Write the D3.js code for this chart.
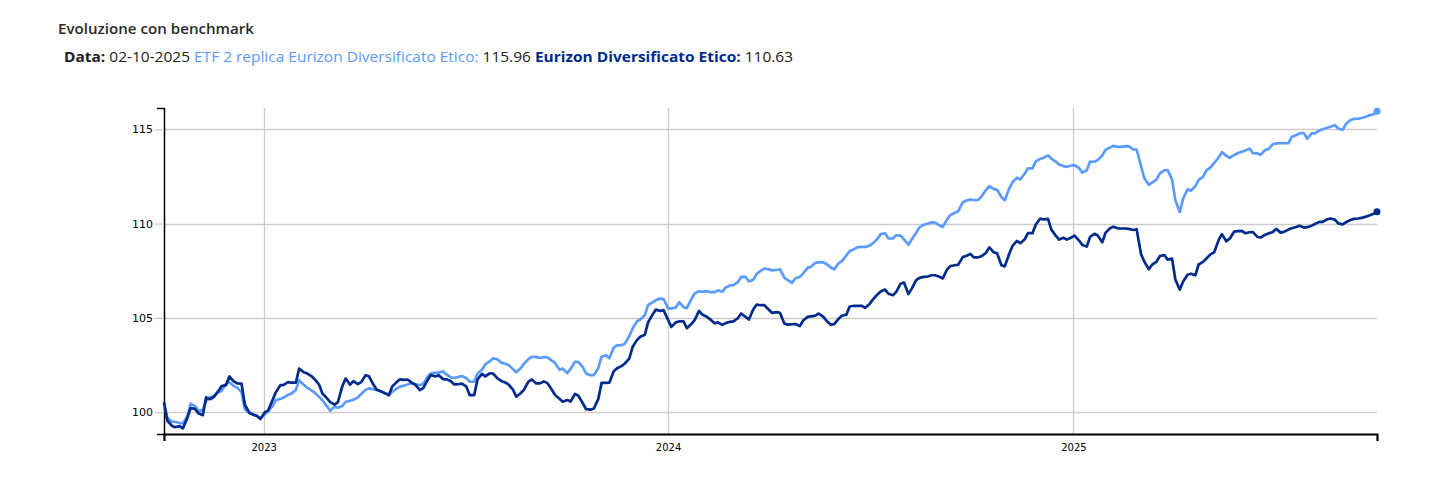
<!DOCTYPE html>
<html><head><meta charset="utf-8">
<script src="https://cdn.jsdelivr.net/npm/d3@7"></script>
<style>
body{margin:0;background:#fff;}
svg{display:block;}
</style></head><body>
<svg id="chart" width="1437" height="492"></svg>
<script>
// ---- data (twice-weekly readings: Monday, Thursday) ----
const dates = [
"2022-10-03","2022-10-06","2022-10-10","2022-10-13","2022-10-17","2022-10-20","2022-10-24","2022-10-27",
"2022-10-31","2022-11-03","2022-11-07","2022-11-10","2022-11-14","2022-11-17","2022-11-21","2022-11-24",
"2022-11-28","2022-12-01","2022-12-05","2022-12-08","2022-12-12","2022-12-15","2022-12-19","2022-12-22",
"2022-12-26","2022-12-29","2023-01-02","2023-01-05","2023-01-09","2023-01-12","2023-01-16","2023-01-19",
"2023-01-23","2023-01-26","2023-01-30","2023-02-02","2023-02-06","2023-02-09","2023-02-13","2023-02-16",
"2023-02-20","2023-02-23","2023-02-27","2023-03-02","2023-03-06","2023-03-09","2023-03-13","2023-03-16",
"2023-03-20","2023-03-23","2023-03-27","2023-03-30","2023-04-03","2023-04-06","2023-04-10","2023-04-13",
"2023-04-17","2023-04-20","2023-04-24","2023-04-27","2023-05-01","2023-05-04","2023-05-08","2023-05-11",
"2023-05-15","2023-05-18","2023-05-22","2023-05-25","2023-05-29","2023-06-01","2023-06-05","2023-06-08",
"2023-06-12","2023-06-15","2023-06-19","2023-06-22","2023-06-26","2023-06-29","2023-07-03","2023-07-06",
"2023-07-10","2023-07-13","2023-07-17","2023-07-20","2023-07-24","2023-07-27","2023-07-31","2023-08-03",
"2023-08-07","2023-08-10","2023-08-14","2023-08-17","2023-08-21","2023-08-24","2023-08-28","2023-08-31",
"2023-09-04","2023-09-07","2023-09-11","2023-09-14","2023-09-18","2023-09-21","2023-09-25","2023-09-28",
"2023-10-02","2023-10-05","2023-10-09","2023-10-12","2023-10-16","2023-10-19","2023-10-23","2023-10-26",
"2023-10-30","2023-11-02","2023-11-06","2023-11-09","2023-11-13","2023-11-16","2023-11-20","2023-11-23",
"2023-11-27","2023-11-30","2023-12-04","2023-12-07","2023-12-11","2023-12-14","2023-12-18","2023-12-21",
"2023-12-25","2023-12-28","2024-01-01","2024-01-04","2024-01-08","2024-01-11","2024-01-15","2024-01-18",
"2024-01-22","2024-01-25","2024-01-29","2024-02-01","2024-02-05","2024-02-08","2024-02-12","2024-02-15",
"2024-02-19","2024-02-22","2024-02-26","2024-02-29","2024-03-04","2024-03-07","2024-03-11","2024-03-14",
"2024-03-18","2024-03-21","2024-03-25","2024-03-28","2024-04-01","2024-04-04","2024-04-08","2024-04-11",
"2024-04-15","2024-04-18","2024-04-22","2024-04-25","2024-04-29","2024-05-02","2024-05-06","2024-05-09",
"2024-05-13","2024-05-16","2024-05-20","2024-05-23","2024-05-27","2024-05-30","2024-06-03","2024-06-06",
"2024-06-10","2024-06-13","2024-06-17","2024-06-20","2024-06-24","2024-06-27","2024-07-01","2024-07-04",
"2024-07-08","2024-07-11","2024-07-15","2024-07-18","2024-07-22","2024-07-25","2024-07-29","2024-08-01",
"2024-08-05","2024-08-08","2024-08-12","2024-08-15","2024-08-19","2024-08-22","2024-08-26","2024-08-29",
"2024-09-02","2024-09-05","2024-09-09","2024-09-12","2024-09-16","2024-09-19","2024-09-23","2024-09-26",
"2024-09-30","2024-10-03","2024-10-07","2024-10-10","2024-10-14","2024-10-17","2024-10-21","2024-10-24",
"2024-10-28","2024-10-31","2024-11-04","2024-11-07","2024-11-11","2024-11-14","2024-11-18","2024-11-21",
"2024-11-25","2024-11-28","2024-12-02","2024-12-05","2024-12-09","2024-12-12","2024-12-16","2024-12-19",
"2024-12-23","2024-12-26","2024-12-30","2025-01-02","2025-01-06","2025-01-09","2025-01-13","2025-01-16",
"2025-01-20","2025-01-23","2025-01-27","2025-01-30","2025-02-03","2025-02-06","2025-02-10","2025-02-13",
"2025-02-17","2025-02-20","2025-02-24","2025-02-27","2025-03-03","2025-03-06","2025-03-10","2025-03-13",
"2025-03-17","2025-03-20","2025-03-24","2025-03-27","2025-03-31","2025-04-03","2025-04-07","2025-04-10",
"2025-04-14","2025-04-17","2025-04-21","2025-04-24","2025-04-28","2025-05-01","2025-05-05","2025-05-08",
"2025-05-12","2025-05-15","2025-05-19","2025-05-22","2025-05-26","2025-05-29","2025-06-02","2025-06-05",
"2025-06-09","2025-06-12","2025-06-16","2025-06-19","2025-06-23","2025-06-26","2025-06-30","2025-07-03",
"2025-07-07","2025-07-10","2025-07-14","2025-07-17","2025-07-21","2025-07-24","2025-07-28","2025-07-31",
"2025-08-04","2025-08-07","2025-08-11","2025-08-14","2025-08-18","2025-08-21","2025-08-25","2025-08-28",
"2025-09-01","2025-09-04","2025-09-08","2025-09-11","2025-09-15","2025-09-18","2025-09-22","2025-09-25",
"2025-09-29","2025-10-02"
];
const etfValues = [
100.45, 99.72, 99.49, 99.49, 99.42, 99.41, 99.75,100.45,100.32,100.07,
100.11,100.58,100.80,100.86,101.06,101.12,101.51,101.59,101.38,101.30,
101.06,100.14, 99.96, 99.90, 99.79, 99.68, 99.87,100.06,100.32,100.64,
100.70,100.77,100.92,100.98,101.18,101.69,101.45,101.31,101.15,101.03,
100.81,100.63,100.32,100.07,100.28,100.23,100.32,100.55,100.60,100.66,
100.78,100.96,101.18,101.26,101.21,101.17,101.09,101.02,100.93,101.07,
101.25,101.35,101.41,101.47,101.55,101.48,101.43,101.50,101.88,102.06,
102.08,102.09,102.16,102.00,101.84,101.81,101.87,101.92,101.80,101.61,
101.61,102.05,102.25,102.53,102.69,102.86,102.80,102.64,102.57,102.50,
102.28,102.12,102.33,102.57,102.81,102.93,102.93,102.87,102.92,102.91,
102.73,102.61,102.25,102.31,102.07,102.29,102.67,102.67,102.39,102.05,
101.96,101.96,102.33,102.94,103.02,102.86,103.42,103.54,103.55,103.63,
104.03,104.44,104.82,104.91,105.14,105.68,105.82,105.94,106.02,106.00,
105.50,105.50,105.55,105.83,105.57,105.51,105.99,106.29,106.42,106.38,
106.42,106.36,106.36,106.46,106.38,106.61,106.72,106.73,106.89,107.17,
107.17,106.93,107.03,107.33,107.50,107.62,107.57,107.52,107.54,107.58,
107.13,107.00,106.86,107.10,107.17,107.36,107.65,107.71,107.92,107.94,
107.95,107.86,107.67,107.57,107.90,108.01,108.31,108.54,108.64,108.75,
108.76,108.76,108.83,108.96,109.19,109.44,109.49,109.21,109.21,109.38,
109.36,109.16,108.88,109.17,109.52,109.80,109.94,109.99,110.07,110.05,
109.90,109.82,110.23,110.46,110.57,110.66,111.12,111.22,111.28,111.24,
111.26,111.44,111.78,111.98,111.84,111.79,111.41,111.24,111.86,112.19,
112.44,112.34,112.66,112.93,112.93,113.30,113.43,113.49,113.62,113.45,
113.29,113.13,113.05,113.01,113.08,113.10,112.94,112.70,112.83,113.29,
113.28,113.38,113.61,113.92,114.03,114.12,114.07,114.07,114.11,114.09,
113.94,113.93,113.04,112.41,112.06,112.17,112.34,112.66,112.82,112.84,
112.33,111.23,110.62,111.33,111.82,111.74,111.98,112.32,112.48,112.82,
112.99,113.22,113.50,113.79,113.59,113.49,113.63,113.73,113.81,113.87,
113.98,113.73,113.72,113.65,113.90,113.95,114.22,114.25,114.26,114.27,
114.26,114.60,114.68,114.79,114.80,114.50,114.78,114.78,114.94,115.00,
115.08,115.14,115.22,115.04,114.97,115.28,115.49,115.55,115.57,115.60,
115.67,115.74,115.80,115.96
];
const fundValues = [
100.53, 99.55, 99.28, 99.20, 99.26, 99.14, 99.68,100.21,100.17, 99.94,
 99.84,100.78,100.69,100.81,101.11,101.38,101.43,101.89,101.63,101.53,
101.51,100.39, 99.97, 99.88, 99.79, 99.63,100.00,100.08,100.64,101.06,
101.43,101.44,101.59,101.56,101.56,102.31,102.12,102.06,101.91,101.75,
101.46,100.99,100.74,100.53,100.40,100.53,101.38,101.78,101.46,101.64,
101.49,101.59,101.96,101.90,101.46,101.20,101.10,101.02,100.89,101.36,
101.59,101.74,101.71,101.73,101.54,101.45,101.17,101.27,101.71,101.97,
101.89,101.95,101.75,101.74,101.64,101.47,101.48,101.51,101.35,100.90,
100.90,101.73,102.03,101.90,102.06,102.05,101.79,101.67,101.57,101.47,
101.19,100.82,101.00,101.19,101.62,101.73,101.52,101.52,101.63,101.54,
101.20,100.91,100.71,100.55,100.64,100.56,100.97,100.87,100.48,100.16,
100.13,100.19,100.69,101.55,101.55,101.56,102.17,102.33,102.44,102.58,
102.84,103.45,103.83,104.00,104.10,104.76,105.17,105.44,105.36,105.41,
104.90,104.52,104.76,104.81,104.82,104.45,104.67,104.88,105.37,105.17,
105.06,104.92,104.71,104.76,104.63,104.72,104.79,104.81,104.98,105.23,
105.05,104.91,105.46,105.70,105.67,105.67,105.43,105.26,105.30,105.27,
104.70,104.64,104.66,104.67,104.56,104.86,105.05,105.08,105.12,105.23,
105.07,104.85,104.64,104.67,104.95,105.11,105.17,105.60,105.64,105.64,
105.64,105.53,105.74,105.98,106.24,106.40,106.50,106.28,106.20,106.38,
106.81,106.87,106.26,106.55,107.00,107.12,107.17,107.19,107.26,107.26,
107.18,107.09,107.58,107.75,107.79,107.82,108.22,108.28,108.39,108.21,
108.21,108.27,108.45,108.74,108.48,108.43,107.79,107.73,108.40,108.82,
109.08,108.96,109.17,109.49,109.49,109.95,110.27,110.22,110.25,109.68,
109.36,109.15,109.25,109.15,109.26,109.36,109.10,108.86,108.78,109.29,
109.46,109.36,109.01,109.52,109.75,109.83,109.75,109.74,109.74,109.72,
109.66,109.70,108.38,107.98,107.58,107.82,107.98,108.28,108.33,108.09,
108.14,107.02,106.50,106.93,107.29,107.34,107.26,107.83,107.97,108.15,
108.38,108.48,109.12,109.44,109.06,109.20,109.57,109.60,109.61,109.49,
109.54,109.55,109.29,109.26,109.41,109.48,109.55,109.72,109.52,109.56,
109.68,109.75,109.82,109.88,109.79,109.81,109.89,109.98,110.09,110.09,
110.23,110.27,110.21,110.01,109.96,110.07,110.19,110.25,110.27,110.30,
110.37,110.43,110.52,110.63
];
const seriesNames = ["ETF 2 replica Eurizon Diversificato Etico", "Eurizon Diversificato Etico"];
const seriesColors = ["#5b9bff", "#002a8c"];
const yTickValues = [100, 105, 110, 115];
const xTickLabels = ["2023", "2024", "2025"];
const titleText = "Evoluzione con benchmark";
const dateLabel = "Data:";
const lastDateText = "02-10-2025";

// ---- chart ----
const parse = d3.timeParse("%Y-%m-%d");
const svg = d3.select("#chart");
const L = 164, R = 1377, T = 108, B = 434;

const x = d3.scaleTime()
  .domain([parse(dates[0]), parse(dates[dates.length - 1])])
  .range([L, R]);
const y = d3.scaleLinear().domain([98.84, 116.13]).range([B, T]);

const series = [etfValues, fundValues].map((vals, i) => ({
  name: seriesNames[i], color: seriesColors[i],
  points: dates.map((d, j) => ({date: parse(d), v: vals[j]}))
}));

// title (condensed to the reference width)
svg.append("text").attr("x", 58).attr("y", 34)
  .attr("font-family", "'Open Sans', 'Noto Sans', sans-serif")
  .attr("font-weight", 600)
  .attr("font-size", 15).attr("fill", "#2a2a2a")
  .attr("textLength", 196).attr("lengthAdjust", "spacingAndGlyphs")
  .text(titleText);

// legend
const legend = svg.append("text").attr("x", 64).attr("y", 62)
  .attr("font-family", "'Open Sans', 'Noto Sans', sans-serif")
  .attr("font-size", 14).attr("fill", "#222")
  .attr("textLength", 729).attr("lengthAdjust", "spacingAndGlyphs");
legend.append("tspan").attr("font-weight", "bold").text(dateLabel);
legend.append("tspan").text(" " + lastDateText + " ");
series.forEach((s, i) => {
  legend.append("tspan").attr("fill", s.color).attr("font-weight", i === 1 ? 700 : 400).text(s.name + ":");
  legend.append("tspan").text(" " + d3.format(".2f")(s.points[s.points.length - 1].v) + (i === 0 ? " " : ""));
});

// horizontal grid
svg.append("g").selectAll("line").data(yTickValues).join("line")
  .attr("x1", L).attr("x2", R)
  .attr("y1", d => Math.round(y(d)) + 0.5).attr("y2", d => Math.round(y(d)) + 0.5)
  .attr("stroke", "#cccccc").attr("stroke-width", 1.3);

// vertical grid
const xTicks = xTickLabels.map(t => parse(t + "-01-01"));
svg.append("g").selectAll("line").data(xTicks).join("line")
  .attr("x1", d => Math.round(x(d)) + 0.5).attr("x2", d => Math.round(x(d)) + 0.5)
  .attr("y1", T).attr("y2", B)
  .attr("stroke", "#cccccc").attr("stroke-width", 1.3);

// y axis
const yAxis = svg.append("g").attr("transform", `translate(${L},0)`)
  .call(d3.axisLeft(y).tickValues(yTickValues).tickSizeInner(9).tickSizeOuter(7).tickPadding(2).tickFormat(d3.format("d")));
yAxis.selectAll(".tick line").attr("stroke", "#cccccc").attr("stroke-width", 1.3);
yAxis.select(".domain").attr("stroke", "#000").attr("stroke-width", 1.5);
yAxis.selectAll("text").attr("font-family", "'DejaVu Sans', Verdana, sans-serif").attr("font-size", 11).attr("fill", "#000");

// x axis
const xAxis = svg.append("g").attr("transform", `translate(0,${B})`)
  .call(d3.axisBottom(x).tickValues(xTicks).tickSizeInner(0).tickSizeOuter(7).tickPadding(10).tickFormat(d3.timeFormat("%Y")));
xAxis.select(".domain").attr("stroke", "#000").attr("stroke-width", 2.2);
xAxis.selectAll("text").attr("font-family", "'DejaVu Sans', Verdana, sans-serif").attr("font-size", 10).attr("fill", "#000");

// lines
const line = d3.line().x(d => x(d.date)).y(d => y(d.v));
series.forEach(s => {
  svg.append("path").datum(s.points).attr("d", line)
    .attr("fill", "none").attr("stroke", s.color).attr("stroke-width", 2.7)
    .attr("stroke-linejoin", "round");
  const last = s.points[s.points.length - 1];
  svg.append("circle").attr("cx", x(last.date)).attr("cy", y(last.v)).attr("r", 3.5).attr("fill", s.color);
});
</script>
</body></html>
